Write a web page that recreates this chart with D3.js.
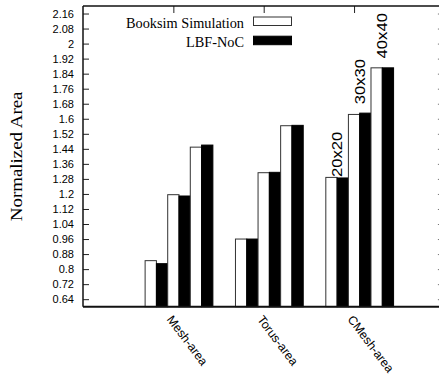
<!DOCTYPE html>
<html>
<head>
<meta charset="utf-8">
<script src="https://cdn.jsdelivr.net/npm/d3@7"></script>
<style>
  body { margin: 0; background: #fff; }
  svg { display: block; }
  .axis path, .axis line { stroke: #222; }
  .axis text { font-family: "Liberation Sans", Arial, sans-serif; font-size: 11px; fill: #000; }
</style>
</head>
<body>
<div id="chart"></div>
<script>
// chart values
var categories = ["Mesh-area", "Torus-area", "CMesh-area"];
var seriesNames = ["Booksim Simulation", "LBF-NoC"];
var sizes = ["20x20", "30x30", "40x40"];
var booksim = [[0.845, 1.196, 1.449], [0.96, 1.313, 1.563], [1.288, 1.623, 1.871]];
var lbf = [[0.829, 1.189, 1.46], [0.96, 1.315, 1.565], [1.285, 1.63, 1.871]];
var sizeLabelY = [1.29, 1.677, 1.921];
var yTicks = [0.64, 0.72, 0.8, 0.88, 0.96, 1.04, 1.12, 1.2, 1.28, 1.36, 1.44,
  1.52, 1.6, 1.68, 1.76, 1.84, 1.92, 2, 2.08, 2.16];

var drawChart = function() {
  var width = 439, height = 378;
  var pLeft = 83, pRight = 444.4, pTop = 6, pBottom = 306.7;

  var svg = d3.select("#chart").append("svg")
    .attr("width", width)
    .attr("height", height);

  var x = d3.scaleLinear().domain([-1, 3]).range([pLeft, pRight]);
  var y = d3.scaleLinear().domain([0.6, 2.2]).range([pBottom, pTop]);
  var barW = 1 / 8;

  // bottom / top ticks (bars are drawn over the bottom ones)
  svg.append("g")
    .attr("class", "axis")
    .attr("transform", "translate(0," + pBottom + ")")
    .call(d3.axisBottom(x).tickValues([0, 1, 2]).tickSize(-7).tickFormat(""))
    .select(".domain").remove();

  svg.append("g")
    .attr("class", "axis")
    .attr("transform", "translate(0," + pTop + ")")
    .call(d3.axisTop(x).tickValues([0, 1, 2]).tickSize(-7).tickFormat(""))
    .select(".domain").remove();

  // right ticks, mostly off the page
  var rightAx = svg.append("g")
    .attr("class", "axis")
    .attr("transform", "translate(" + pRight + ",0)")
    .call(d3.axisRight(y).tickValues(yTicks).tickSize(-6.5).tickFormat(""));
  rightAx.selectAll("line").style("stroke", "#777");
  rightAx.select(".domain").remove();

  // bars
  var bars = [];
  categories.forEach(function(c, i) {
    sizes.forEach(function(s, k) {
      bars.push({ cat: i, j: 2 * k, v: booksim[i][k], s: 0 });
      bars.push({ cat: i, j: 2 * k + 1, v: lbf[i][k], s: 1 });
    });
  });

  svg.append("g").selectAll("rect")
    .data(bars)
    .enter().append("rect")
    .attr("x", function(d) { return x(d.cat + (d.j - 2.5) * barW); })
    .attr("width", x(barW) - x(0))
    .attr("y", function(d) { return y(d.v); })
    .attr("height", function(d) { return y(0.6) - y(d.v); })
    .attr("fill", function(d) { return d.s ? "#000" : "#fff"; })
    .attr("stroke", function(d) { return d.s ? "#000" : "#333"; })
    .attr("stroke-width", 1);

  // left axis
  var leftAx = svg.append("g")
    .attr("class", "axis")
    .attr("transform", "translate(" + pLeft + ",0)")
    .call(d3.axisLeft(y).tickValues(yTicks).tickSize(-6).tickPadding(9)
      .tickFormat(function(d) { return String(+d.toFixed(2)); }));
  leftAx.select(".domain").remove();

  // frame lines
  svg.append("line").attr("x1", pLeft).attr("x2", width).attr("y1", pTop).attr("y2", pTop)
    .attr("stroke", "#111").attr("stroke-width", 1.5);
  svg.append("line").attr("x1", pLeft).attr("x2", width).attr("y1", pBottom).attr("y2", pBottom)
    .attr("stroke", "#111").attr("stroke-width", 2);
  svg.append("line").attr("x1", pLeft).attr("x2", pLeft).attr("y1", pTop).attr("y2", pBottom)
    .attr("stroke", "#111").attr("stroke-width", 1.5);

  // category labels
  svg.append("g").selectAll("text")
    .data(categories)
    .enter().append("text")
    .attr("transform", function(d, i) {
      return "translate(" + (x(i) - 7) + "," + 319.5 + ") rotate(53)";
    })
    .style("font-family", "Liberation Sans, Arial, sans-serif")
    .style("font-size", "12.3px")
    .text(function(d) { return d; });

  // size labels over the CMesh group
  svg.append("g").selectAll("text")
    .data(sizes)
    .enter().append("text")
    .attr("transform", function(d, k) {
      var cx = x(2 + (2 * k + 1 - 2.5) * barW);
      return "translate(" + cx + "," + y(sizeLabelY[k]) + ") scale(1,1.19) rotate(-90)";
    })
    .attr("dy", "0.36em")
    .style("font-family", "Liberation Sans, Arial, sans-serif")
    .style("font-size", "14px")
    .text(function(d) { return d; });

  // y label
  svg.append("text")
    .attr("transform", "translate(22," + ((pTop + pBottom) / 2) + ") scale(1,1.14) rotate(-90)")
    .style("text-anchor", "middle")
    .style("font-family", "Liberation Serif, Times New Roman, serif")
    .style("font-size", "16.6px")
    .text("Normalized Area");

  // legend
  var legend = svg.append("g").selectAll("g")
    .data(seriesNames)
    .enter().append("g")
    .attr("transform", function(d, i) { return "translate(0," + (i * 19.2) + ")"; });

  legend.append("text")
    .attr("x", 244)
    .attr("y", 28.3)
    .style("text-anchor", "end")
    .style("font-family", "Liberation Serif, Times New Roman, serif")
    .style("font-size", "14.3px")
    .text(function(d) { return d; });

  legend.append("rect")
    .attr("x", 253.5)
    .attr("y", 17)
    .attr("width", 38)
    .attr("height", 8.5)
    .attr("fill", function(d, i) { return i ? "#000" : "#fff"; })
    .attr("stroke", function(d, i) { return i ? "#000" : "#333"; })
    .attr("stroke-width", 1);
};

drawChart();
</script>
</body>
</html>
